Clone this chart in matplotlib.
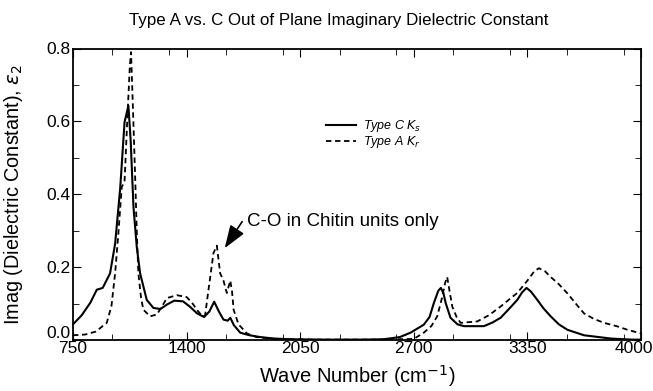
import matplotlib
matplotlib.use("Agg")
import matplotlib.pyplot as plt
import matplotlib.transforms as mtransforms
from matplotlib.ticker import MultipleLocator

plt.rcParams["font.family"] = ["Liberation Sans", "DejaVu Sans"]

# Type C K_s (solid)
wn_c = [750, 800, 850, 886, 920, 962, 991, 1020, 1045, 1067, 1080, 1096, 1115,
        1134, 1172, 1210, 1250, 1290, 1330, 1380, 1420, 1460, 1500, 1530, 1558,
        1585, 1611, 1635, 1650, 1670, 1707, 1760, 1822, 1900, 2000, 2200, 2400,
        2527, 2620, 2681, 2757, 2790, 2815, 2840, 2855, 2870, 2882, 2910, 2950,
        2987, 3101, 3150, 3197, 3250, 3292, 3320, 3345, 3370, 3407, 3440, 3483,
        3530, 3579, 3674, 3827, 3950, 4000]
eps_c = [0.043, 0.068, 0.103, 0.138, 0.143, 0.183, 0.264, 0.416, 0.598, 0.643,
         0.547, 0.365, 0.255, 0.183, 0.110, 0.088, 0.085, 0.098, 0.108, 0.106,
         0.091, 0.073, 0.063, 0.078, 0.105, 0.078, 0.056, 0.053, 0.061, 0.041,
         0.020, 0.013, 0.008, 0.004, 0.002, 0.001, 0.001, 0.002, 0.008, 0.020,
         0.042, 0.063, 0.102, 0.135, 0.143, 0.128, 0.102, 0.061, 0.043, 0.038,
         0.038, 0.048, 0.061, 0.088, 0.110, 0.131, 0.143, 0.133, 0.110, 0.088,
         0.065, 0.043, 0.028, 0.013, 0.004, 0.001, 0.001]

# Type A K_r (dashed)
wn_a = [750, 820, 880, 943, 970, 991, 1010, 1029, 1045, 1060, 1075, 1082, 1092,
        1105, 1115, 1124, 1140, 1153, 1191, 1230, 1260, 1287, 1344, 1400, 1430,
        1459, 1490, 1506, 1525, 1554, 1573, 1592, 1611, 1630, 1650, 1660, 1669,
        1697, 1745, 1800, 1900, 2100, 2500, 2700, 2757, 2800, 2834, 2860, 2880,
        2891, 2905, 2920, 2945, 2968, 3063, 3130, 3197, 3250, 3292, 3350, 3390,
        3416, 3450, 3483, 3530, 3579, 3630, 3674, 3730, 3789, 3860, 3923, 4000]
eps_a = [0.013, 0.015, 0.023, 0.047, 0.093, 0.183, 0.295, 0.42, 0.435, 0.598,
         0.75, 0.79, 0.65, 0.457, 0.295, 0.183, 0.113, 0.083, 0.065, 0.070,
         0.093, 0.115, 0.123, 0.118, 0.103, 0.083, 0.065, 0.068, 0.137, 0.239,
         0.259, 0.183, 0.163, 0.129, 0.163, 0.133, 0.083, 0.043, 0.018, 0.008,
         0.003, 0.001, 0.001, 0.003, 0.020, 0.038, 0.065, 0.113, 0.158, 0.173,
         0.133, 0.092, 0.063, 0.047, 0.051, 0.068, 0.092, 0.113, 0.129, 0.163,
         0.189, 0.197, 0.189, 0.173, 0.153, 0.128, 0.098, 0.073, 0.058, 0.047,
         0.038, 0.028, 0.018]

xticks = [750, 1400, 2050, 2700, 3350, 4000]
yticks = [0.0, 0.2, 0.4, 0.6, 0.8]

fig = plt.figure(figsize=(6.53, 3.91), dpi=100)
ax = fig.add_axes([73 / 653, 1 - 340 / 391, 568 / 653, 291.5 / 391])

ax.plot(wn_c, eps_c, color="black", lw=1.5, label=r"Type C $K_s$")
ax.plot(wn_a, eps_a, color="black", lw=1.3, linestyle=(0, (3, 2)),
        label=r"Type A $K_r$")

ax.set_xlim(750, 4000)
ax.set_ylim(0, 0.8)
ax.set_xticks(xticks)
ax.set_yticks(yticks)
ax.set_yticklabels([f"{v:.1f}" for v in yticks])
ax.xaxis.set_minor_locator(MultipleLocator(325))
ax.yaxis.set_minor_locator(MultipleLocator(0.1))
ax.tick_params(which="both", direction="in", top=True, right=True,
               labelsize=12.5)
ax.tick_params(axis="x", pad=1)
ax.tick_params(axis="y", pad=2)
ax.tick_params(which="major", length=6)
ax.tick_params(which="minor", length=4)
for s in ax.spines.values():
    s.set_linewidth(1.3)

# last x label sits flush with the right edge in the original
last = ax.get_xticklabels()[-1]
last.set_ha("right")
last.set_transform(last.get_transform() +
                   mtransforms.ScaledTranslation(12 / 100, 0, fig.dpi_scale_trans))
# the 0.0 label sits just above the corner
zero = ax.get_yticklabels()[0]
zero.set_va("bottom")
zero.set_transform(zero.get_transform() +
                   mtransforms.ScaledTranslation(0, -1 / 100, fig.dpi_scale_trans))

ax.set_title("Type A vs. C Out of Plane Imaginary Dielectric Constant",
             fontsize=12.2, pad=17, x=0.467)
ax.set_xlabel("Wave Number (cm$^{-1}$)", fontsize=14.5, labelpad=5)
ax.set_ylabel(r"Imag (Dielectric Constant), $\varepsilon_2$", fontsize=14.3)
ax.yaxis.set_label_coords(-0.084, 0.5)

ax.legend(loc="upper left", bbox_to_anchor=(0.425, 0.80), frameon=False,
          handlelength=2.4, handletextpad=0.6, labelspacing=0.0,
          prop={"style": "italic", "size": 9})

ax.text(1745, 0.325, "C-O in Chitin units only", fontsize=13.5, va="center")
ax.annotate("", xy=(1618, 0.252), xytext=(1718, 0.325),
            arrowprops=dict(arrowstyle="-|>,head_length=1.4,head_width=0.5",
                            color="black", lw=1.2, shrinkA=0, shrinkB=0))

fig.savefig("out.png", dpi=100)
